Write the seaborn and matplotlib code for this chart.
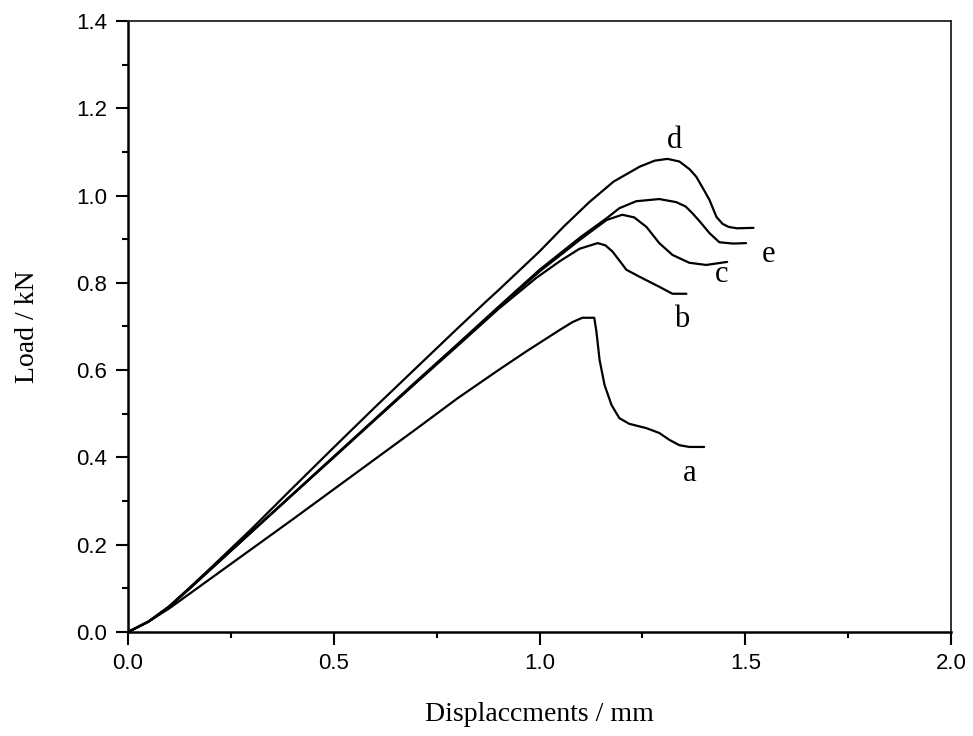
import numpy as np
import pandas as pd
import matplotlib
matplotlib.use("Agg")
import matplotlib.pyplot as plt
import seaborn as sns
from matplotlib.ticker import MultipleLocator, FormatStrFormatter

sns.set_style("ticks")
plt.rcParams['font.family'] = ['Liberation Sans', 'DejaVu Sans']
plt.rcParams['text.color'] = 'black'
plt.rcParams['axes.labelcolor'] = 'black'

# load-displacement curves
a_x = [0, 0.05, 0.1, 0.15, 0.2, 0.3, 0.4, 0.5, 0.6, 0.7, 0.8, 0.9, 0.968, 1.049, 1.08,
       1.104, 1.133, 1.138, 1.146, 1.158, 1.175, 1.194, 1.218, 1.26, 1.291, 1.316, 1.34, 1.364, 1.40]
a_y = [0, 0.024, 0.054, 0.088, 0.122, 0.19, 0.258, 0.327, 0.396, 0.465, 0.535, 0.60, 0.643, 0.692, 0.71,
       0.72, 0.72, 0.69, 0.623, 0.566, 0.52, 0.49, 0.477, 0.467, 0.456, 0.44, 0.428, 0.424, 0.424]

b_x = [0, 0.05, 0.1, 0.15, 0.2, 0.3, 0.4, 0.5, 0.6, 0.7, 0.8, 0.9, 0.993, 1.05,
       1.097, 1.141, 1.16, 1.177, 1.195, 1.211, 1.243, 1.291, 1.323, 1.357]
b_y = [0, 0.024, 0.058, 0.1, 0.143, 0.229, 0.315, 0.40, 0.486, 0.571, 0.655, 0.74, 0.812, 0.85,
       0.878, 0.891, 0.886, 0.872, 0.85, 0.83, 0.814, 0.791, 0.775, 0.775]

c_x = [0, 0.05, 0.1, 0.15, 0.2, 0.3, 0.4, 0.5, 0.6, 0.7, 0.8, 0.9, 1.0, 1.1,
       1.163, 1.201, 1.23, 1.26, 1.291, 1.323, 1.364, 1.405, 1.456]
c_y = [0, 0.024, 0.058, 0.1, 0.143, 0.229, 0.315, 0.401, 0.487, 0.572, 0.657, 0.743, 0.826, 0.9,
       0.944, 0.956, 0.95, 0.928, 0.891, 0.864, 0.846, 0.841, 0.848]

d_x = [0, 0.05, 0.1, 0.15, 0.2, 0.3, 0.4, 0.5, 0.6, 0.7, 0.8, 0.871, 0.9, 1.0, 1.06,
       1.121, 1.18, 1.243, 1.28, 1.311, 1.34, 1.365, 1.381, 1.40, 1.413, 1.43, 1.445, 1.46, 1.48, 1.52]
d_y = [0, 0.024, 0.059, 0.102, 0.146, 0.236, 0.33, 0.423, 0.515, 0.605, 0.695, 0.758, 0.783, 0.872, 0.93,
       0.985, 1.032, 1.066, 1.08, 1.084, 1.078, 1.06, 1.043, 1.012, 0.99, 0.951, 0.935, 0.928, 0.925, 0.926]

e_x = [0, 0.05, 0.1, 0.15, 0.2, 0.3, 0.4, 0.5, 0.6, 0.7, 0.8, 0.9, 1.0, 1.1,
       1.163, 1.194, 1.235, 1.291, 1.332, 1.355, 1.371, 1.39, 1.413, 1.437, 1.47, 1.502]
e_y = [0, 0.024, 0.058, 0.1, 0.144, 0.23, 0.316, 0.402, 0.488, 0.574, 0.659, 0.745, 0.83, 0.905,
       0.948, 0.971, 0.987, 0.992, 0.985, 0.975, 0.96, 0.94, 0.914, 0.893, 0.89, 0.891]

curves = {"a": (a_x, a_y), "b": (b_x, b_y), "c": (c_x, c_y), "d": (d_x, d_y), "e": (e_x, e_y)}
label_pos = {"a": (1.364, 0.364), "b": (1.345, 0.715), "c": (1.442, 0.818),
             "d": (1.328, 1.127), "e": (1.556, 0.864)}

fig = plt.figure(figsize=(9.73, 7.36), dpi=100)
ax = fig.add_axes([0.1316, 0.1413, 0.8458, 0.8302])

for name, (xs, ys) in curves.items():
    df = pd.DataFrame({"x": xs, "y": ys})
    sns.lineplot(data=df, x="x", y="y", sort=False, estimator=None,
                 color="black", linewidth=1.6, ax=ax)
    lx, ly = label_pos[name]
    ax.text(lx, ly, name, family="Liberation Serif", fontsize=22,
            ha="center", va="center", color="black")

ax.set_xlim(0, 2.0)
ax.set_ylim(0, 1.4)
ax.xaxis.set_major_locator(MultipleLocator(0.5))
ax.xaxis.set_minor_locator(MultipleLocator(0.25))
ax.yaxis.set_major_locator(MultipleLocator(0.2))
ax.yaxis.set_minor_locator(MultipleLocator(0.1))
ax.xaxis.set_major_formatter(FormatStrFormatter('%.1f'))
ax.yaxis.set_major_formatter(FormatStrFormatter('%.1f'))
ax.tick_params(which='major', direction='out', length=9, width=1.5, labelsize=16,
               colors='black', pad=6)
ax.tick_params(which='minor', direction='out', length=4, width=1.5, colors='black')

for s in ["left", "bottom"]:
    ax.spines[s].set_linewidth(1.8)
    ax.spines[s].set_color("black")
for s in ["top", "right"]:
    ax.spines[s].set_visible(True)
    ax.spines[s].set_linewidth(1.3)
    ax.spines[s].set_color("#222222")

ax.set_xlabel("Displaccments / mm", family="Liberation Serif", fontsize=20, labelpad=20)
ax.set_ylabel("Load / kN", family="Liberation Serif", fontsize=20, labelpad=26)

fig.savefig("out.png", dpi=100)
